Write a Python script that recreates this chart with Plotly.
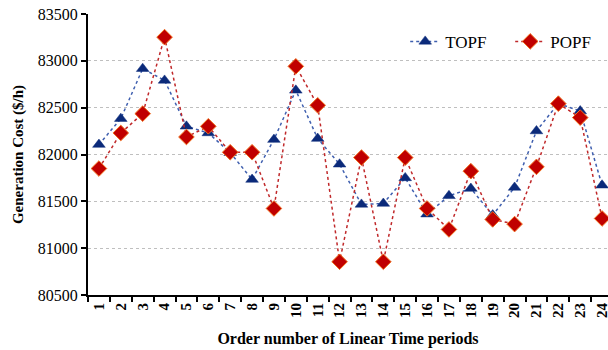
import plotly.graph_objects as go

periods = [str(i) for i in range(1, 25)]
topf = [82106, 82383, 82916, 82791, 82301, 82230, 82020, 81733, 82159, 82685,
        82170, 81896, 81467, 81477, 81750, 81363, 81559, 81637, 81353, 81648,
        82251, 82545, 82464, 81672]
popf = [81850, 82230, 82436, 83253, 82187, 82301, 82024, 82024, 81424, 82941,
        82525, 80855, 81967, 80855, 81967, 81424, 81200, 81822, 81307, 81257,
        81868, 82543, 82394, 81317]
y_ticks = [80500, 81000, 81500, 82000, 82500, 83000, 83500]

FONT = "Liberation Serif"

fig = go.Figure()
fig.add_trace(go.Scatter(
    x=periods, y=topf, name="TOPF", mode="lines+markers",
    line=dict(color="#3F5FAF", width=1.5, dash="dot"),
    marker=dict(symbol="triangle-up", size=11, color="#0B2A7A",
                line=dict(color="#0B2A7A", width=0.5)),
    cliponaxis=False,
))
fig.add_trace(go.Scatter(
    x=periods, y=popf, name="POPF", mode="lines+markers",
    line=dict(color="#C0282A", width=1.5, dash="dot"),
    marker=dict(symbol="diamond", size=12, color="#C00000",
                line=dict(color="#F07020", width=1)),
    cliponaxis=False,
))

fig.update_layout(
    width=608, height=350,
    margin=dict(l=88, r=0, t=14, b=55, autoexpand=False),
    paper_bgcolor="white", plot_bgcolor="white",
    font=dict(family=FONT, color="black"),
    showlegend=True,
    legend=dict(orientation="h", x=0.61, y=0.965, xanchor="left", yanchor="top",
                font=dict(family=FONT, size=17, color="black"),
                bgcolor="rgba(0,0,0,0)", tracegroupgap=0,
                entrywidth=60, entrywidthmode="pixels"),
)
fig.update_xaxes(
    type="category", categoryorder="array", categoryarray=periods,
    range=[-0.5, 23.27], tickson="boundaries", automargin=False,
    ticks="outside", ticklen=5, tickwidth=1.5, tickcolor="black",
    tickangle=-90, tickfont=dict(family=FONT, size=15, weight="bold"),
    ticklabeloverflow="allow",
    showline=True, linecolor="black", linewidth=2, showgrid=False,
    title=dict(text="<b>Order number of Linear Time periods</b>",
               font=dict(family=FONT, size=16), standoff=16),
)
fig.update_yaxes(
    range=[80500, 83500], tickvals=y_ticks, ticktext=[str(v) for v in y_ticks],
    ticks="outside", ticklen=5, tickwidth=1.5, tickcolor="black",
    tickfont=dict(family=FONT, size=16), automargin=False,
    ticklabeloverflow="allow",
    showline=True, linecolor="black", linewidth=2,
    showgrid=True, gridcolor="#BFBFBF", gridwidth=1, griddash="dot",
    zeroline=False,
    title=dict(text="<b>Generation Cost ($/h)</b>",
               font=dict(family=FONT, size=15), standoff=11),
)

fig.write_html("out.html", config={"displayModeBar": False},
               post_script="document.body.style.margin='0';document.body.style.overflow='hidden';")
